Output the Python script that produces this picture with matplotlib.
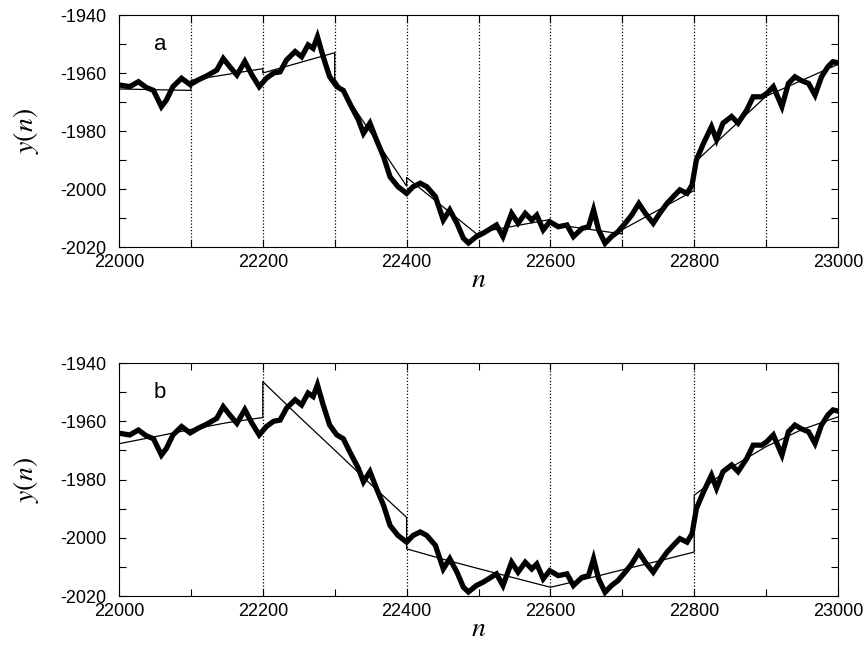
import matplotlib
matplotlib.use("Agg")
import matplotlib.pyplot as plt
from matplotlib.ticker import MultipleLocator

plt.rcParams.update({
    "font.family": "Liberation Sans",
    "mathtext.fontset": "stix",
    "axes.unicode_minus": False,
    "xtick.direction": "in",
    "ytick.direction": "in",
    "xtick.top": True,
    "ytick.right": True,
})

# profile y(n)
n_vals = [22000, 22015, 22027, 22038, 22048, 22059, 22066, 22075, 22087, 22099,
          22110, 22122, 22136, 22145, 22154, 22164, 22175, 22185, 22195, 22205,
          22215, 22224, 22233, 22245, 22254, 22263, 22270, 22276, 22284, 22293,
          22303, 22312, 22321, 22333, 22340, 22349, 22358, 22368, 22377, 22388,
          22400, 22409, 22419, 22428, 22440, 22451, 22460, 22470, 22479, 22486,
          22497, 22506, 22514, 22525, 22534, 22546, 22555, 22565, 22574, 22581,
          22590, 22599, 22611, 22623, 22632, 22644, 22653, 22660, 22667, 22676,
          22685, 22694, 22704, 22713, 22723, 22732, 22743, 22752, 22762, 22771,
          22780, 22790, 22797, 22803, 22813, 22824, 22831, 22840, 22852, 22861,
          22873, 22882, 22894, 22901, 22910, 22922, 22931, 22940, 22949, 22959,
          22968, 22977, 22986, 22993, 23000]
y_vals = [-1964.1, -1964.7, -1963.0, -1965.0, -1966.0, -1971.6, -1969.3, -1964.7, -1961.8, -1964.0,
          -1962.4, -1961.0, -1959.0, -1955.0, -1957.8, -1960.7, -1956.0, -1960.7, -1964.7, -1961.8,
          -1960.0, -1959.6, -1955.5, -1952.6, -1954.4, -1950.3, -1951.5, -1947.5, -1954.4, -1961.3,
          -1964.7, -1966.0, -1970.5, -1976.2, -1980.8, -1977.3, -1983.0, -1988.9, -1995.8, -1999.2,
          -2001.5, -1999.2, -1998.0, -1999.2, -2002.6, -2010.7, -2007.2, -2011.8, -2017.0, -2018.6,
          -2016.4, -2015.3, -2014.1, -2012.4, -2016.4, -2008.4, -2011.8, -2008.4, -2010.7, -2009.0,
          -2014.1, -2011.3, -2013.0, -2012.4, -2016.4, -2013.6, -2013.0, -2007.2, -2014.1, -2018.7,
          -2016.4, -2014.7, -2011.8, -2009.0, -2005.0, -2008.4, -2011.8, -2008.4, -2005.0, -2002.6,
          -2000.3, -2001.5, -1998.6, -1990.0, -1984.2, -1978.5, -1983.0, -1977.3, -1975.0, -1977.3,
          -1972.8, -1968.2, -1968.2, -1967.0, -1964.7, -1971.6, -1963.6, -1961.3, -1962.6, -1963.6,
          -1967.6, -1961.3, -1957.8, -1956.1, -1956.5]

# panel a: linear trend in boxes of 100 (start, end of each box)
fit_a_n = [22000, 22100, 22100, 22200, 22200, 22300, 22300, 22400, 22400, 22500,
           22500, 22600, 22600, 22700, 22700, 22800, 22800, 22900, 22900, 23000]
fit_a_y = [-1965.5, -1966.0, -1962.5, -1958.5, -1960.0, -1953.0, -1962.0, -1999.0, -1996.0, -2016.0,
           -2015.0, -2010.5, -2012.0, -2015.5, -2014.0, -2000.5, -1991.0, -1968.0, -1968.0, -1957.0]

# panel b: quadratic trend in boxes of 200, read every 50
fit_b_n = [22000, 22050, 22100, 22150, 22200,
           22200, 22250, 22300, 22350, 22400,
           22400, 22450, 22500, 22550, 22600,
           22600, 22650, 22700, 22750, 22800,
           22800, 22850, 22900, 22950, 23000]
fit_b_y = [-1967.7, -1965.3, -1962.8, -1960.5, -1958.7,
           -1946.4, -1958.3, -1969.9, -1981.6, -1993.0,
           -2003.8, -2007.3, -2010.6, -2013.8, -2017.0,
           -2017.0, -2014.1, -2011.0, -2008.0, -2004.9,
           -1985.4, -1976.0, -1968.7, -1962.8, -1958.5]

boxes_a = [22100, 22200, 22300, 22400, 22500, 22600, 22700, 22800, 22900]
boxes_b = [22200, 22400, 22600, 22800]

fig = plt.figure(figsize=(8.66, 6.47), dpi=100)
ax_a = fig.add_axes([0.1374, 0.6182, 0.8303, 0.3586])
ax_b = fig.add_axes([0.1374, 0.0788, 0.8303, 0.3601])

for ax, fn, fy, boxes, tag in [(ax_a, fit_a_n, fit_a_y, boxes_a, "a"),
                               (ax_b, fit_b_n, fit_b_y, boxes_b, "b")]:
    for b in boxes:
        ax.axvline(b, color="black", lw=0.9, ls=(0, (1, 1.6)))
    ax.plot(n_vals, y_vals, color="black", lw=3.8, solid_joinstyle="miter")
    ax.plot(fn, fy, color="black", lw=0.9)
    ax.set_xlim(22000, 23000)
    ax.set_ylim(-2020, -1940)
    ax.xaxis.set_major_locator(MultipleLocator(200))
    ax.xaxis.set_minor_locator(MultipleLocator(100))
    ax.yaxis.set_major_locator(MultipleLocator(20))
    ax.yaxis.set_minor_locator(MultipleLocator(10))
    ax.tick_params(which="both", length=5, width=0.8, labelsize=13)
    ax.tick_params(axis="y", pad=9)
    ax.tick_params(axis="x", pad=5)
    ax.set_xlabel(r"$n$", fontsize=20, labelpad=-3)
    ax.set_ylabel(r"$y(n)$", fontsize=20, labelpad=14)
    ax.text(22057, -1950, tag, fontsize=16, ha="center", va="center")

fig.savefig("out.png")
